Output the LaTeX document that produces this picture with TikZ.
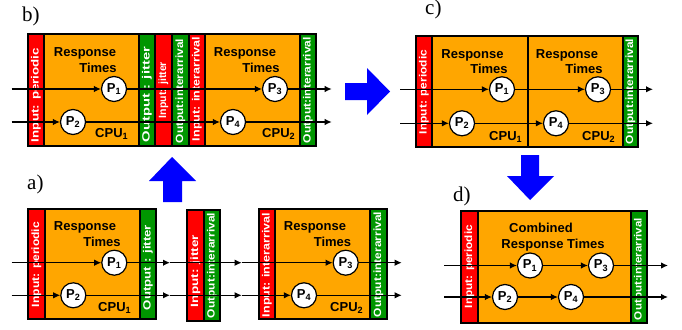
\documentclass[tikz,border=0pt]{standalone}
\usepackage{fontspec}
\setmainfont{Liberation Sans}
\newfontfamily\serifl{Liberation Serif}
\usetikzlibrary{arrows.meta}
\definecolor{cred}{RGB}{255,0,0}
\definecolor{corange}{RGB}{255,166,0}
\definecolor{cgreen}{RGB}{0,150,0}
\definecolor{cblue}{RGB}{0,0,255}
\tikzset{
  stripbox/.style={draw=black,line width=1.4pt},
  stext/.style={rotate=90,text=white,inner sep=0pt,font=\bfseries\fontsize{10.5}{10.5}\selectfont},
  txt/.style={anchor=base,inner sep=0pt,font=\bfseries\fontsize{13}{15}\selectfont},
  proc/.style={circle,draw=black,fill=white,line width=1.2pt,minimum size=25pt,inner sep=0pt,font=\bfseries\fontsize{13}{13}\selectfont},
  arr/.style={line width=1.2pt,-{Latex[length=7pt,width=6.5pt]}},
  lab/.style={anchor=base west,inner sep=0pt,font=\serifl\fontsize{21}{21}\selectfont},
  bigarrow/.style={fill=cblue,draw=none}
}
\newcommand\mystrip[9]{%
  \filldraw[stripbox,fill=#6] (#2,#4) rectangle (#3,#5);
  \node[stext] (#1) at ({(#2+#3)/2},{(#7+#8)/2}) {\resizebox{\dimexpr #8pt-#7pt\relax}{\height}{#9}};
}
\newcommand\orng[4]{\filldraw[stripbox,fill=corange] (#1,#3) rectangle (#2,#4);}
\begin{document}
\begin{tikzpicture}[x=1pt,y=-1pt]
\useasboundingbox (0,0) rectangle (682,329);
\fill[white] (0,0) rectangle (682,329);

% ---------- panel b ----------
\node[lab] (lb) at (22,21.5) {b)};
\mystrip{bI1}{28}{44}{34}{146}{cred}{48}{142}{Input: periodic}
\orng{44}{139}{34}{146}
\mystrip{bO1}{139}{155}{34}{146}{cgreen}{47}{142}{Output : jitter}
\mystrip{bI2}{155}{172}{34}{146}{cred}{62}{118}{Input: jitter}
\mystrip{bO2}{172}{189}{34}{146}{cgreen}{39}{143}{Output:interarrival}
\mystrip{bI3}{189}{205}{34}{146}{cred}{37}{141}{Input: interarrival}
\orng{205}{300}{34}{146}
\mystrip{bO3}{300}{316}{34}{146}{cgreen}{37}{143}{Output:interarrival}
\node[txt] (bR1) at (85,56.7) {Response};
\node[txt] (bT1) at (98,72) {Times};
\node[txt,anchor=base west] (bC1) at (95,137) {CPU\textsubscript{1}};
\node[txt] (bR2) at (245,56.7) {Response};
\node[txt] (bT2) at (261,72) {Times};
\node[txt,anchor=base west] (bC2) at (262,137) {CPU\textsubscript{2}};
\node[proc] (bP1) at (114,89) {P\textsubscript{1}};
\node[proc] (bP2) at (73,122) {P\textsubscript{2}};
\node[proc] (bP3) at (275,89) {P\textsubscript{3}};
\node[proc] (bP4) at (233,122) {P\textsubscript{4}};
\coordinate (bs1) at (11.7,89);
\coordinate (bs2) at (11.7,122);
\coordinate (be1) at (331.7,89);
\coordinate (be2) at (331.7,122);
\draw[arr] (bs1) -- (bP1);
\draw[arr] (bP1) -- (bP3);
\draw[arr] (bP3) -- (be1);
\draw[arr] (bs2) -- (bP2);
\draw[arr] (bP2) -- (bP4);
\draw[arr] (bP4) -- (be2);

% ---------- panel c ----------
\node[lab] (lc) at (425,15) {c)};
\mystrip{cI1}{416}{432}{36}{147}{cred}{50}{134}{Input: periodic}
\orng{432}{528}{36}{147}
\orng{528}{623}{36}{147}
\mystrip{cO1}{623}{638}{36}{147}{cgreen}{39}{144}{Output:interarrival}
\node[txt] (cR1) at (472.5,58.5) {Response};
\node[txt] (cT1) at (489,74) {Times};
\node[txt,anchor=base west] (cC1) at (489,140) {CPU\textsubscript{1}};
\node[txt] (cR2) at (567,58.5) {Response};
\node[txt] (cT2) at (584,74) {Times};
\node[txt,anchor=base west] (cC2) at (582,140) {CPU\textsubscript{2}};
\node[proc] (cP1) at (502,89.3) {P\textsubscript{1}};
\node[proc] (cP2) at (462,123.3) {P\textsubscript{2}};
\node[proc] (cP3) at (598,89.3) {P\textsubscript{3}};
\node[proc] (cP4) at (556,123.3) {P\textsubscript{4}};
\coordinate (cs1) at (400,89.3);
\coordinate (cs2) at (400,123.3);
\coordinate (ce1) at (653,89.3);
\coordinate (ce2) at (653,123.3);
\draw[arr] (cs1) -- (cP1);
\draw[arr] (cP1) -- (cP3);
\draw[arr] (cP3) -- (ce1);
\draw[arr] (cs2) -- (cP2);
\draw[arr] (cP2) -- (cP4);
\draw[arr] (cP4) -- (ce2);

% ---------- panel a ----------
\node[lab] (la) at (27,189.5) {a)};
\mystrip{aI1}{28}{45}{209}{319}{cred}{222}{307}{Input: periodic}
\orng{45}{140}{209}{319}
\mystrip{aO1}{140}{156}{209}{319}{cgreen}{225}{310}{Output : jitter}
\mystrip{aI2}{187}{204}{210}{321}{cred}{235}{307}{Input: jitter}
\mystrip{aO2}{204}{220}{210}{321}{cgreen}{213}{318}{Output:interarrival}
\mystrip{aI3}{259}{275}{209}{319}{cred}{213}{317}{Input: interarrival}
\orng{275}{370}{209}{319}
\mystrip{aO3}{370}{387}{209}{319}{cgreen}{212}{317}{Output:interarrival}
\node[txt] (aR1) at (85,230) {Response};
\node[txt] (aT1) at (102,246.7) {Times};
\node[txt,anchor=base west] (aC1) at (98,311.7) {CPU\textsubscript{1}};
\node[txt] (aR2) at (315,230) {Response};
\node[txt] (aT2) at (332.5,246.7) {Times};
\node[txt,anchor=base west] (aC2) at (330,311.7) {CPU\textsubscript{2}};
\node[proc] (aP1) at (114.3,262.7) {P\textsubscript{1}};
\node[proc] (aP2) at (73.3,295.3) {P\textsubscript{2}};
\node[proc] (aP3) at (345.7,262.7) {P\textsubscript{3}};
\node[proc] (aP4) at (304,295.3) {P\textsubscript{4}};
\coordinate (as1) at (11.7,262.7);
\coordinate (as2) at (11.7,295.3);
\coordinate (am1) at (170,262.7);
\coordinate (am2) at (241.7,262.7);
\coordinate (am3) at (170,295.3);
\coordinate (am4) at (241.7,295.3);
\coordinate (ae1) at (401.7,262.7);
\coordinate (ae2) at (401.7,295.3);
\draw[arr] (as1) -- (aP1);
\draw[arr] (aP1) -- (am1);
\draw[arr] (am1) -- (am2);
\draw[arr] (am2) -- (aP3);
\draw[arr] (aP3) -- (ae1);
\draw[arr] (as2) -- (aP2);
\draw[arr] (aP2) -- (am3);
\draw[arr] (am3) -- (am4);
\draw[arr] (am4) -- (aP4);
\draw[arr] (aP4) -- (ae2);

% ---------- panel d ----------
\node[lab] (ld) at (453,201.5) {d)};
\mystrip{dI1}{461}{478}{211}{323}{cred}{225}{308}{Input: periodic}
\orng{478}{631}{211}{323}
\mystrip{dO1}{631}{647}{211}{323}{cgreen}{218}{320}{Output:interarrival}
\node[txt] (dR1) at (541,232.5) {Combined};
\node[txt] (dR2) at (553,248) {Response Times};
\node[proc] (dP1) at (530,265.5) {P\textsubscript{1}};
\node[proc] (dP2) at (505,297) {P\textsubscript{2}};
\node[proc] (dP3) at (601,265.5) {P\textsubscript{3}};
\node[proc] (dP4) at (571,297) {P\textsubscript{4}};
\coordinate (ds1) at (444,265.5);
\coordinate (ds2) at (444,297);
\coordinate (de1) at (668,265.5);
\coordinate (de2) at (668,297);
\draw[arr] (ds1) -- (dP1);
\draw[arr] (dP1) -- (dP3);
\draw[arr] (dP3) -- (de1);
\draw[arr] (ds2) -- (dP2);
\draw[arr] (dP2) -- (dP4);
\draw[arr] (dP4) -- (de2);

% ---------- big blue arrows ----------
\fill[bigarrow] (163,202) -- (163,181) -- (149,181) -- (172,157) -- (196,181) -- (182,181) -- (182,202) -- cycle;
\fill[bigarrow] (345,83) -- (367,83) -- (367,68) -- (390,91.5) -- (367,115) -- (367,100) -- (345,100) -- cycle;
\fill[bigarrow] (521,155) -- (539,155) -- (539,176) -- (554,176) -- (530,200) -- (507,176) -- (521,176) -- cycle;
\end{tikzpicture}
\end{document}
